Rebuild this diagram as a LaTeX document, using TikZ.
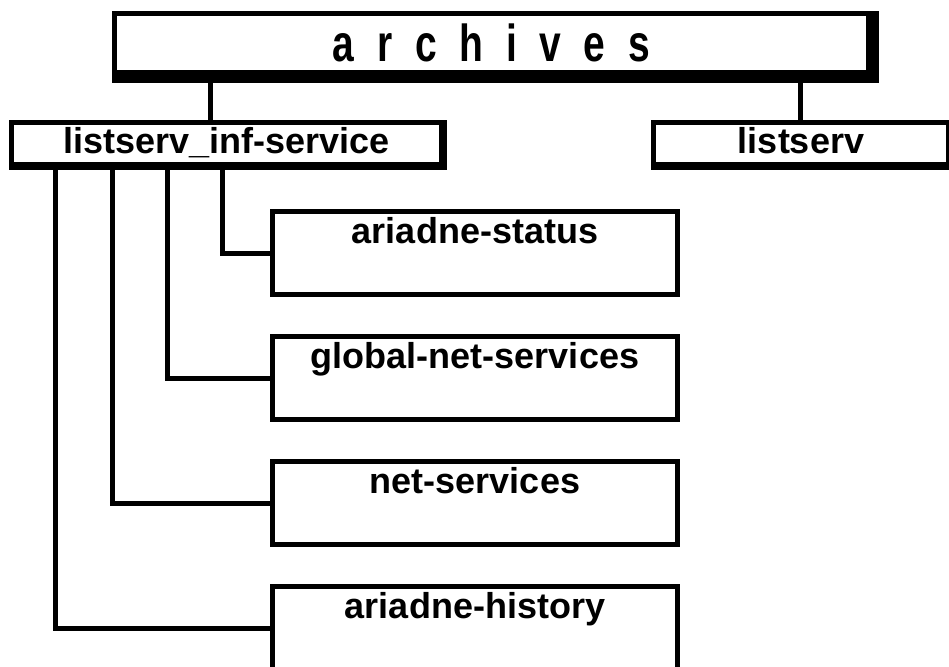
\documentclass[tikz,border=0pt]{standalone}
\usepackage{fontspec}
\setmainfont{Liberation Sans}
\newfontfamily\archfont{Liberation Sans}[FakeStretch=0.75]

\tikzset{
  dirbox/.style={draw, fill=white, line width=5pt, inner xsep=0pt, inner ysep=0pt,
    font=\bfseries\fontsize{36}{42}\selectfont},
  leafbox/.style={dirbox, minimum width=405pt, text height=31.5pt, text depth=51.5pt},
  link/.style={line width=5pt}
}

\begin{document}
\begin{tikzpicture}[x=1pt, y=-1pt]
\clip (0,0) rectangle (949,666);
\node[dirbox, minimum width=754pt, text height=48.2pt, text depth=10.8pt,
  font=\archfont\bfseries\fontsize{52}{60}\selectfont] (archives) at (491.5,43)
  {\spaceskip=22.7pt\relax a r c h i v e s};
\fill ([xshift=-5pt]archives.north east) rectangle ([shift={(8pt,-8pt)}]archives.south east);
\fill ([yshift=5pt]archives.south west) rectangle ([shift={(8pt,-8pt)}]archives.south east);
\node[dirbox, minimum width=430pt, text height=31pt, text depth=11pt] (infservice) at (226.5,143.5) {listserv\_inf-service};
\fill ([xshift=-5pt]infservice.north east) rectangle ([shift={(3pt,-3pt)}]infservice.south east);
\fill ([yshift=5pt]infservice.south west) rectangle ([shift={(3pt,-3pt)}]infservice.south east);
\node[dirbox, minimum width=295pt, text height=31pt, text depth=11pt] (listserv) at (801,143.5) {listserv};
\fill ([yshift=5pt]listserv.south west) rectangle ([shift={(3pt,-3pt)}]listserv.south east);
\node[leafbox] (status) at (475,253) {ariadne-status};
\node[leafbox] (global) at (475,378) {global-net-services};
\node[leafbox] (netsvc) at (475,503) {net-services};
\node[leafbox] (history) at (475,628) {ariadne-history};
\coordinate (ta) at (210,0);
\coordinate (tb) at (800,0);
\draw[link] ([yshift=-8pt]archives.south -| ta) -- (infservice.north -| ta);
\draw[link] ([yshift=-8pt]archives.south -| tb) -- (listserv.north -| tb);
\coordinate (ka) at (222.5,0);
\coordinate (kb) at (167.5,0);
\coordinate (kc) at (112.5,0);
\coordinate (kd) at (55.5,0);
\draw[link] ([yshift=-3pt]infservice.south -| ka) |- (status.west);
\draw[link] ([yshift=-3pt]infservice.south -| kb) |- (global.west);
\draw[link] ([yshift=-3pt]infservice.south -| kc) |- (netsvc.west);
\draw[link] ([yshift=-3pt]infservice.south -| kd) |- (history.west);
\end{tikzpicture}
\end{document}
